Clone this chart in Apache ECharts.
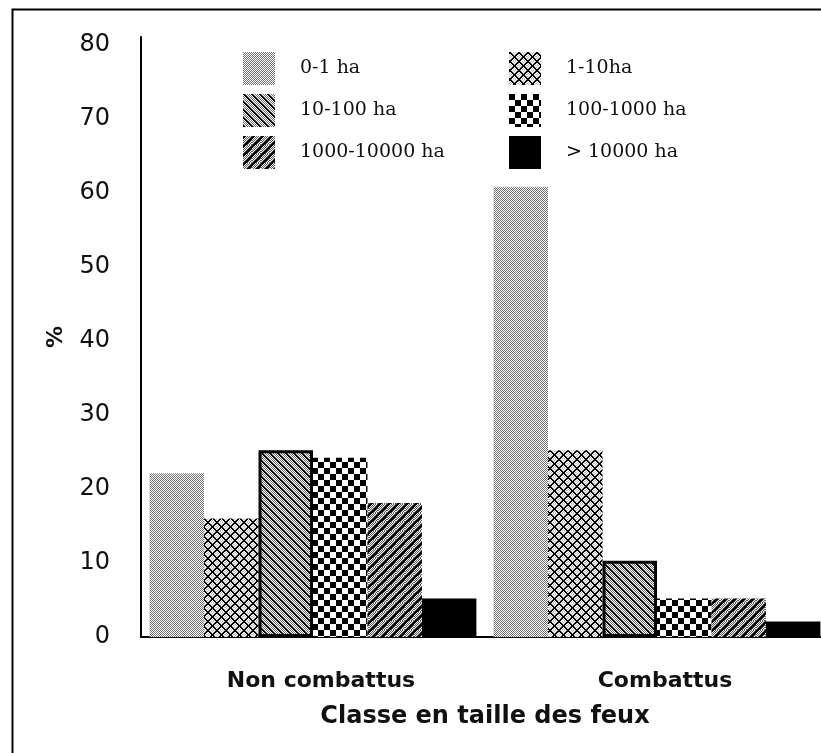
<!DOCTYPE html>
<html>
<head>
<meta charset="utf-8">
<script src="https://cdn.jsdelivr.net/npm/echarts@6/dist/echarts.min.js"></script>
<style>
html,body{margin:0;padding:0;background:#fff;overflow:hidden;}
#chart{width:830px;height:753px;}
</style>
</head>
<body>
<div id="chart"></div>
<script>
// ---- data ----
var categories = ['Non combattus', 'Combattus'];
var seriesNames = ['0-1 ha', '1-10ha', '10-100 ha', '100-1000 ha', '1000-10000 ha', '> 10000 ha'];
var v0_1 = [22.1, 60.8];
var v1_10 = [16.0, 25.2];
var v10_100 = [25.2, 10.3];
var v100_1000 = [24.2, 5.2];
var v1000_10000 = [18.1, 5.2];
var v10000 = [5.2, 2.1];
var yTicks = [0, 10, 20, 30, 40, 50, 60, 70, 80];

// ---- patterns ----
function makePattern(w, h, fn) {
  var c = document.createElement('canvas');
  c.width = w; c.height = h;
  var ctx = c.getContext('2d');
  var img = ctx.createImageData(w, h);
  for (var y = 0; y < h; y++) {
    for (var x = 0; x < w; x++) {
      var g = fn(x, y);
      var i = (y * w + x) * 4;
      img.data[i] = g; img.data[i + 1] = g; img.data[i + 2] = g; img.data[i + 3] = 255;
    }
  }
  ctx.putImageData(img, 0, 0);
  return c;
}
var pStipple = makePattern(2, 2, function (x, y) {
  return ((x + y) % 2 === 0) ? 115 : 255;
});
var pCross = makePattern(9, 9, function (x, y) {
  var d1 = (x - y + 18) % 9, d2 = (x + y) % 9;
  if (d1 < 2 || d2 < 2) return 0;
  return ((x + y) % 2 === 0) ? 190 : 255;
});
var pBack = makePattern(8, 8, function (x, y) {
  var d = (x - y + 16) % 8;
  if (d < 2) return 0;
  return ((x + y) % 2 === 0) ? 110 : 255;
});
var pChecker = makePattern(12, 12, function (x, y) {
  return ((Math.floor(x / 6) + Math.floor(y / 6)) % 2 === 0) ? 0 : 255;
});
var pFwd = makePattern(9, 9, function (x, y) {
  var d = (x + y) % 9;
  if (d < 3) return 0;
  return ((x + y) % 2 === 0) ? 90 : 245;
});

var fills = [
  { image: pStipple, repeat: 'repeat' },
  { image: pCross, repeat: 'repeat' },
  { image: pBack, repeat: 'repeat' },
  { image: pChecker, repeat: 'repeat' },
  { image: pFwd, repeat: 'repeat' },
  '#000000'
];
var values = [v0_1, v1_10, v10_100, v100_1000, v1000_10000, v10000];

var series = seriesNames.map(function (n, i) {
  return {
    name: n,
    type: 'bar',
    data: values[i],
    barGap: 0,
    barCategoryGap: '5%',
    itemStyle: {
      color: fills[i],
      borderColor: '#000',
      borderWidth: i === 2 ? 3 : 0
    },
    emphasis: { disabled: true }
  };
});

var legendText = { fontFamily: 'DejaVu Serif', fontSize: 19, color: '#111', padding: [0, 0, 0, 20] };

var chart = echarts.init(document.getElementById('chart'), null, { renderer: 'canvas' });
chart.setOption({
  animation: false,
  backgroundColor: '#fff',
  graphic: [{
    type: 'rect',
    left: 10, top: 7,
    shape: { width: 840, height: 800 },
    style: { fill: 'none', stroke: '#000', lineWidth: 2 },
    z: 100
  }],
  legend: [{
    left: 238, top: 47, orient: 'vertical',
    itemWidth: 32, itemHeight: 33, itemGap: 9,
    icon: 'rect',
    selectedMode: false,
    itemStyle: { borderWidth: 0 },
    textStyle: legendText,
    data: [seriesNames[0], seriesNames[2], seriesNames[4]]
  }, {
    left: 504, top: 47, orient: 'vertical',
    itemWidth: 32, itemHeight: 33, itemGap: 9,
    icon: 'rect',
    selectedMode: false,
    itemStyle: { borderWidth: 0 },
    textStyle: legendText,
    data: [seriesNames[1], seriesNames[3], seriesNames[5]]
  }],
  grid: { left: 141, top: 37, right: 1, bottom: 116, containLabel: false },
  xAxis: {
    type: 'category',
    data: categories,
    axisLine: { lineStyle: { color: '#000', width: 2 } },
    axisTick: { show: false },
    axisLabel: {
      fontFamily: 'DejaVu Sans', fontWeight: 'bold', fontSize: 22, color: '#111',
      margin: 33, padding: [0, 0, 0, 16]
    },
    name: 'Classe en taille des feux',
    nameLocation: 'middle',
    nameGap: 68,
    nameTextStyle: { fontFamily: 'DejaVu Sans', fontWeight: 'bold', fontSize: 24, color: '#111' }
  },
  yAxis: {
    type: 'value',
    min: 0, max: 81, interval: 10,
    splitLine: { show: false },
    axisLine: { show: true, lineStyle: { color: '#000', width: 2 } },
    axisTick: { show: false },
    axisLabel: {
      fontFamily: 'DejaVu Sans', fontSize: 24, color: '#111', margin: 31,
      padding: [6, 0, 0, 0],
      showMaxLabel: false,
      formatter: function (v) { return yTicks.indexOf(v) >= 0 ? String(v) : ''; }
    },
    name: '%',
    nameLocation: 'middle',
    nameRotate: 90,
    nameGap: 74,
    nameTextStyle: { fontFamily: 'DejaVu Sans', fontWeight: 'bold', fontSize: 22, color: '#111' }
  },
  series: series
});
</script>
</body>
</html>
